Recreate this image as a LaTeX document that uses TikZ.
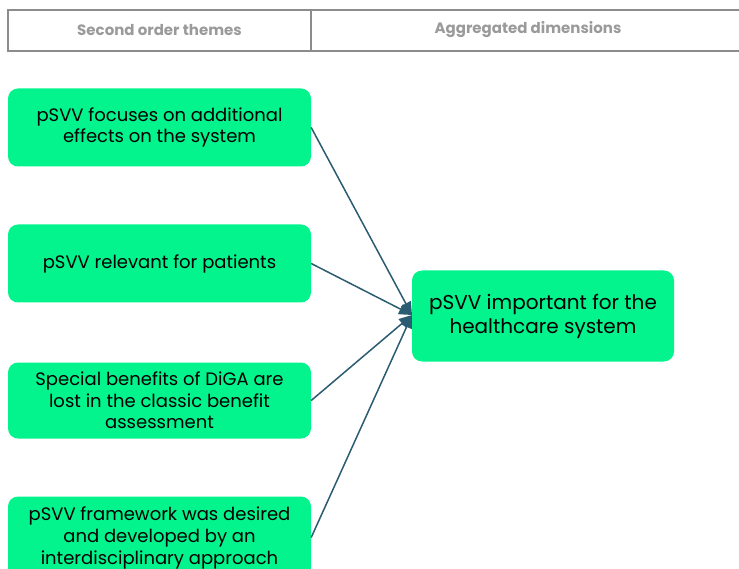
\documentclass[tikz,border=0pt]{standalone}
\usepackage{fontspec}
\setmainfont{Poppins}
\usetikzlibrary{arrows.meta}
\definecolor{themegreen}{HTML}{03F48C}
\definecolor{linkblue}{HTML}{2B5C72}
\definecolor{headgrey}{HTML}{9A9A9A}
\definecolor{framegrey}{HTML}{8C8C8C}
\tikzset{
  theme/.style={fill=themegreen, rounded corners=10pt, minimum width=303pt,
    align=center, inner sep=0pt, font=\fontsize{18}{21.3}\selectfont},
  dimension/.style={theme, minimum width=262pt, minimum height=91pt,
    font=\fontsize{20}{24}\selectfont},
  headtext/.style={text=headgrey, font=\bfseries\fontsize{15}{17}\selectfont},
  link/.style={draw=linkblue, line width=1.5pt,
    -{Triangle[length=13pt,width=11pt]}}
}
\begin{document}
\begin{tikzpicture}[x=1pt,y=-1pt]
\useasboundingbox (0,0) rectangle (739,569);
\clip (0,0) rectangle (739,569);
% header strip
\draw[framegrey, line width=1.2pt] (8,10) rectangle (745,51);
\draw[framegrey, line width=1.2pt] (311,10) -- (311,51);
\node[headtext] (h1) at (159.5,30) {Second order themes};
\node[headtext] (h2) at (528,30) {Aggregated dimensions};
% second order themes
\node[theme, minimum height=78pt] (t1) at (159.5,127.5)
  {pSVV focuses on additional\\effects on the system};
\node[theme, minimum height=78pt] (t2) at (159.5,263.5)
  {pSVV relevant for patients};
\node[theme, minimum height=76pt] (t3) at (159.5,400.5)
  {Special benefits of DiGA are\\lost in the classic benefit\\assessment};
\node[theme, minimum height=82pt, font=\fontsize{18}{22}\selectfont] (t4) at (159.5,537.5)
  {pSVV framework was desired\\and developed by an\\interdisciplinary approach};
% aggregated dimension
\node[dimension] (d1) at (543,316)
  {pSVV important for the\\healthcare system};
\coordinate (hub) at (412,315);
% links
\draw[link] (t1.east) -- (hub);
\draw[link] (t2.east) -- (hub);
\draw[link] (t3.east) -- (hub);
\draw[link] (t4.east) -- (hub);
\end{tikzpicture}
\end{document}
